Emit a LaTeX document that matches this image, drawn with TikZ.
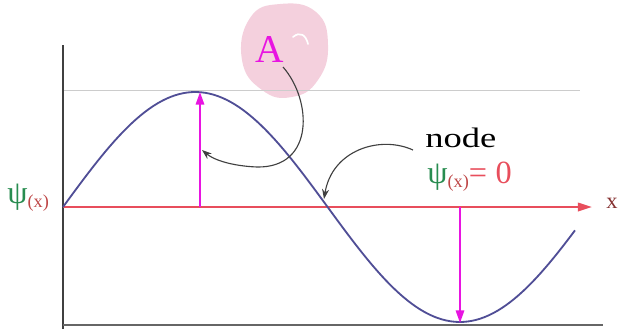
\documentclass[tikz,border=0pt]{standalone}
\usepackage{fontspec}
\setmainfont{Liberation Serif}
\usepackage{graphicx}
\usetikzlibrary{arrows.meta}
\definecolor{wave}{RGB}{80,78,150}
\definecolor{axisred}{RGB}{232,78,92}
\definecolor{amp}{RGB}{232,20,225}
\definecolor{psigreen}{RGB}{40,140,80}
\definecolor{subred}{RGB}{190,70,70}
\definecolor{blob}{RGB}{244,208,221}
\newcommand{\psix}{\textcolor{psigreen}{ψ}\textcolor{subred}{\fontsize{13}{14}\selectfont\raisebox{-3pt}{(x)}}}

\begin{document}
\begin{tikzpicture}[x=0.025cm,y=-0.025cm,
  ampl/.style={amp,line width=1.3pt,-{Triangle[length=9pt,width=6pt]}},
  pointer/.style={black!75,line width=0.8pt,-{Stealth[length=7pt,width=5pt]}}]
\useasboundingbox (0,0) rectangle (623,329);
\coordinate (O) at (63,207); \coordinate (X) at (592,207);
\coordinate (P) at (200,92); \coordinate (Pb) at (200,207);
\coordinate (T) at (460,323); \coordinate (Tb) at (460,207);
\coordinate (Z) at (324,199);
% blob round the amplitude label
\fill[blob] plot[smooth cycle,tension=0.8] coordinates {(250,18) (280,4) (316,12) (328,45) (318,80) (292,97) (262,90) (242,60)};
\draw[white,line width=1.2pt,line cap=round] (293,37) .. controls (300,31) and (306,35) .. (308,44);
\draw[black!20,line width=0.5pt] (63,90) -- (580,90);
\draw[black!75,line width=1.2pt] (63,45) -- (63,329);
\draw[black!60,line width=1.4pt] (63,325) -- (603,325);
\draw[axisred,line width=1.4pt,-{Triangle[length=10pt,width=6pt]}] (O) -- (X);
\draw[wave,line width=1.3pt] plot[domain=63:575,samples=120] (\x,{207-115*sin((\x-63)/132.3*90)});
\draw[ampl] (Pb) -- (P);
\draw[ampl] (Tb) -- (T);
\node[anchor=base west,amp,font=\fontsize{28}{30}\selectfont,inner sep=0] (A) at (255,62) {A};
\node[anchor=base west,inner sep=0,font=\fontsize{20}{22}\selectfont] (nd) at (425,147) {\scalebox{1.3}[1]{node}};
\node[anchor=base west,inner sep=0,font=\fontsize{23}{25}\selectfont] (zero) at (427,183) {\psix\textcolor{axisred}{=\hspace{6pt}0}};
\node[anchor=base west,inner sep=0,font=\fontsize{23}{25}\selectfont] (psi) at (7,203) {\psix};
\node[anchor=base west,inner sep=0,text=subred!70!black,font=\fontsize{16}{18}\selectfont] (xl) at (606,208) {x};
\draw[pointer] (283,67) .. controls (312,100) and (315,168) .. (257,167) .. controls (232,166) and (214,160) .. (202,150);
\draw[pointer] (413,150) .. controls (380,135) and (332,150) .. (Z);
\end{tikzpicture}
\end{document}
